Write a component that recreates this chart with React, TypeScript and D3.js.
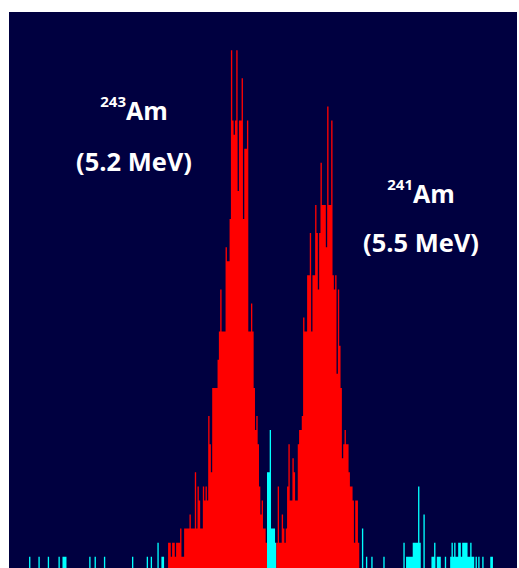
import React from 'react';
import * as d3 from 'd3';

const W = 519;
const H = 568;

// Counts per MCA channel (380 channels)
const counts: number[] = [
  0,0,0,0,0,0,0,0,0,0,0,0,0,0,0,1,0,0,0,0,
  0,0,1,0,0,0,0,0,0,1,0,0,0,0,0,0,0,1,0,0,
  1,1,1,0,0,0,0,0,0,0,0,0,0,0,0,0,0,0,0,0,
  1,0,0,0,1,0,0,0,0,0,0,1,0,0,0,0,0,0,0,0,
  0,0,0,0,0,0,0,0,0,0,0,0,1,0,0,0,0,0,0,0,
  0,0,0,1,0,0,1,0,0,0,0,2,0,0,1,1,0,0,0,2,
  2,1,2,2,1,2,2,2,3,1,1,3,3,3,3,4,3,3,3,7,
  3,6,5,3,3,6,5,6,5,11,9,7,13,13,13,13,15,17,20,17,
  17,17,23,22,22,25,37,32,31,32,37,27,32,32,35,25,30,30,32,17,
  17,19,17,13,10,11,9,6,4,5,3,3,2,7,7,10,3,3,3,2,
  2,6,2,2,4,3,2,3,6,9,5,5,8,7,5,5,9,10,10,11,
  18,17,17,21,21,24,17,21,21,26,24,20,24,29,26,26,26,23,33,26,
  26,32,21,20,21,14,20,16,13,8,9,10,9,9,7,6,6,5,2,5,
  5,2,0,0,3,0,0,1,0,0,0,1,0,0,0,0,0,0,0,0,
  1,0,0,0,0,0,0,0,0,0,0,0,0,0,0,2,0,1,1,1,
  1,1,2,2,2,2,6,2,0,0,4,0,0,0,0,0,1,1,2,0,
  1,1,1,0,0,0,1,0,0,0,1,2,1,2,1,1,2,2,1,2,
  2,2,2,1,1,2,1,1,0,1,0,1,0,0,1,0,0,0,0,0,
  1,1,0,0,0,0,0,0,0,0,0,0,0,0,0,0,0,0,0,0,
];

// Regions of interest (channel ranges, inclusive)
const roiStart = [119, 200];
const roiEnd = [192, 261];

// Labels
const isotopeMass = ['243', '241'];
const isotopeSymbol = ['Am', 'Am'];
const energies = ['(5.2 MeV)', '(5.5 MeV)'];
const labelPos = [
  { cx: 134, y1: 120, y2: 170.5 },
  { cx: 421, y1: 203, y2: 252 },
];

const inRoi = (c: number) => roiStart.some((s, i) => c >= s && c <= roiEnd[i]);

export default function App() {
  const x = d3.scaleLinear().domain([0, counts.length]).range([9, 517]);
  const y = d3.scaleLinear().domain([0, 40]).range([570.8, 8]);

  type P = { c: number; v: number };
  const segs: { roi: boolean; pts: P[] }[] = [];
  let cur: { roi: boolean; pts: P[] } | null = null;
  counts.forEach((v, c) => {
    const r = inRoi(c);
    if (!cur || cur.roi !== r) {
      if (cur) {
        const last = cur.pts[cur.pts.length - 1];
        cur.pts.push({ c: last.c + 1, v: last.v });
        segs.push(cur);
      }
      cur = { roi: r, pts: [] };
    }
    cur.pts.push({ c, v });
  });
  if (cur) {
    const c2 = cur as { roi: boolean; pts: P[] };
    const last = c2.pts[c2.pts.length - 1];
    c2.pts.push({ c: last.c + 1, v: last.v });
    segs.push(c2);
  }

  const area = d3
    .area<P>()
    .x((d) => x(d.c))
    .y0(y(0))
    .y1((d) => y(d.v))
    .curve(d3.curveStepAfter);

  return (
    <svg
      width={W}
      height={H}
      style={{ position: 'absolute', left: 0, top: 0, display: 'block' }}
    >
      <rect x={0} y={0} width={W} height={H} fill="#ffffff" />
      <rect x={9} y={12} width={508} height={H - 12} fill="#000040" />
      {segs.map((s, i) => (
        <path key={i} d={area(s.pts) || ''} fill={s.roi ? '#ff0000' : '#00ffff'} />
      ))}
      {labelPos.map((p, i) => (
        <g key={i} fill="#ffffff" fontFamily="'Open Sans', sans-serif" fontWeight={700}>
          <text x={p.cx} y={p.y1} textAnchor="middle">
            <tspan fontSize={15} dy={-13.5}>{isotopeMass[i]}</tspan>
            <tspan fontSize={25} dy={13.5}>{isotopeSymbol[i]}</tspan>
          </text>
          <text x={p.cx} y={p.y2} textAnchor="middle" fontSize={25.5}>
            {energies[i]}
          </text>
        </g>
      ))}
    </svg>
  );
}
